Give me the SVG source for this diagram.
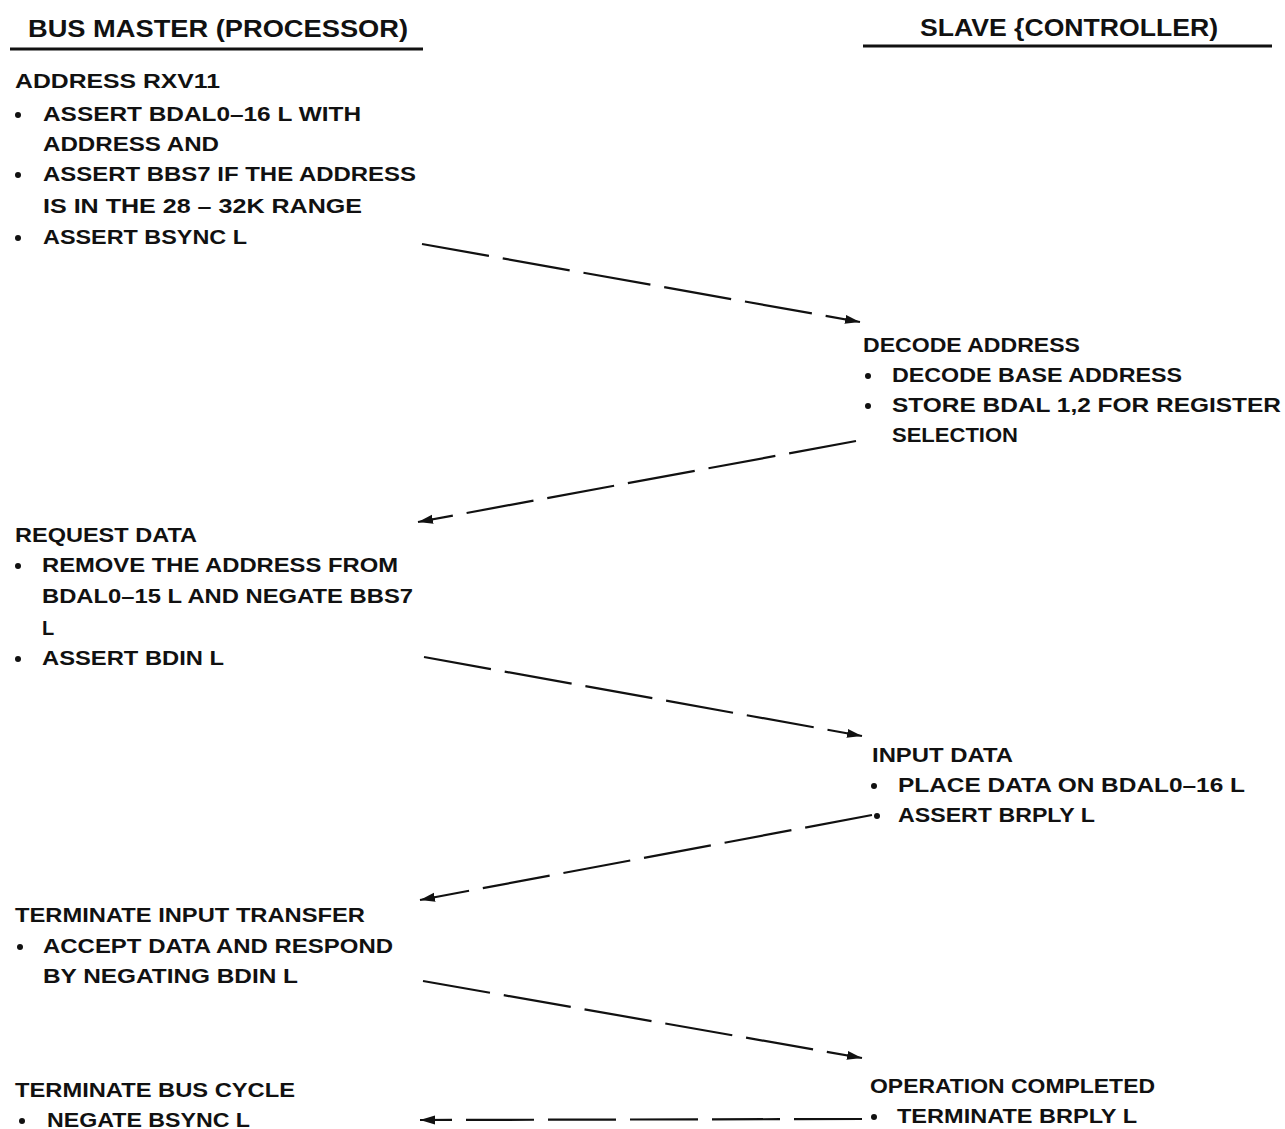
<svg xmlns="http://www.w3.org/2000/svg" width="1285" height="1129" viewBox="0 0 1285 1129">
<defs>
<style>
text{font-family:"Liberation Sans",Arial,sans-serif;font-weight:bold;fill:#111;}
.h{font-size:24px;}
.t{font-size:20px;}
.b{fill:#111;}
.rule{stroke:#111;stroke-width:3;fill:none;}
.c{stroke:#111;stroke-width:2.2;fill:none;stroke-dasharray:68 14;marker-end:url(#ah);}
</style>
<marker id="ah" markerUnits="userSpaceOnUse" markerWidth="16" markerHeight="10" refX="15" refY="5" orient="auto">
<path d="M0,0.5 L15,5 L0,9.5 Z" fill="#111"/>
</marker>
</defs>
<rect width="1285" height="1129" fill="#fff"/>

<g id="header-master">
<text class="h" x="28" y="37" textLength="380" lengthAdjust="spacingAndGlyphs">BUS MASTER (PROCESSOR)</text>
<line class="rule" x1="10" y1="49" x2="423" y2="49"/>
</g>
<g id="header-slave">
<text class="h" x="920" y="36" textLength="298" lengthAdjust="spacingAndGlyphs">SLAVE {CONTROLLER)</text>
<line class="rule" x1="863" y1="46" x2="1272" y2="46"/>
</g>

<g id="node-address">
<text class="t" x="15" y="88" textLength="205" lengthAdjust="spacingAndGlyphs">ADDRESS RXV11</text>
<circle class="b" cx="18" cy="115" r="3"/>
<text class="t" x="43" y="121" textLength="318" lengthAdjust="spacingAndGlyphs">ASSERT BDAL0–16 L WITH</text>
<text class="t" x="43" y="151" textLength="176" lengthAdjust="spacingAndGlyphs">ADDRESS AND</text>
<circle class="b" cx="18" cy="175" r="3"/>
<text class="t" x="43" y="181" textLength="373" lengthAdjust="spacingAndGlyphs">ASSERT BBS7 IF THE ADDRESS</text>
<text class="t" x="43" y="213" textLength="319" lengthAdjust="spacingAndGlyphs">IS IN THE 28 – 32K RANGE</text>
<circle class="b" cx="18" cy="238" r="3"/>
<text class="t" x="43" y="244" textLength="204" lengthAdjust="spacingAndGlyphs">ASSERT BSYNC L</text>
</g>

<g id="node-decode">
<text class="t" x="863" y="352" textLength="217" lengthAdjust="spacingAndGlyphs">DECODE ADDRESS</text>
<circle class="b" cx="868" cy="376" r="3"/>
<text class="t" x="892" y="382" textLength="290" lengthAdjust="spacingAndGlyphs">DECODE BASE ADDRESS</text>
<circle class="b" cx="868" cy="406" r="3"/>
<text class="t" x="892" y="412" textLength="389" lengthAdjust="spacingAndGlyphs">STORE BDAL  1,2 FOR REGISTER</text>
<text class="t" x="892" y="442" textLength="126" lengthAdjust="spacingAndGlyphs">SELECTION</text>
</g>

<g id="node-request">
<text class="t" x="15" y="542" textLength="182" lengthAdjust="spacingAndGlyphs">REQUEST DATA</text>
<circle class="b" cx="18" cy="566" r="3"/>
<text class="t" x="42" y="572" textLength="356" lengthAdjust="spacingAndGlyphs">REMOVE THE ADDRESS FROM</text>
<text class="t" x="42" y="603" textLength="371" lengthAdjust="spacingAndGlyphs">BDAL0–15 L AND NEGATE BBS7</text>
<text class="t" x="42" y="635">L</text>
<circle class="b" cx="18" cy="659" r="3"/>
<text class="t" x="42" y="665" textLength="182" lengthAdjust="spacingAndGlyphs">ASSERT BDIN L</text>
</g>

<g id="node-input">
<text class="t" x="872" y="762" textLength="141" lengthAdjust="spacingAndGlyphs">INPUT DATA</text>
<circle class="b" cx="874" cy="786" r="3"/>
<text class="t" x="898" y="792" textLength="347" lengthAdjust="spacingAndGlyphs">PLACE DATA ON BDAL0–16 L</text>
<circle class="b" cx="877" cy="816" r="3"/>
<text class="t" x="898" y="822" textLength="197" lengthAdjust="spacingAndGlyphs">ASSERT BRPLY L</text>
</g>

<g id="node-terminate-input">
<text class="t" x="15" y="922" textLength="350" lengthAdjust="spacingAndGlyphs">TERMINATE INPUT TRANSFER</text>
<circle class="b" cx="20" cy="947" r="3"/>
<text class="t" x="43" y="953" textLength="350" lengthAdjust="spacingAndGlyphs">ACCEPT DATA AND RESPOND</text>
<text class="t" x="43" y="983" textLength="255" lengthAdjust="spacingAndGlyphs">BY NEGATING BDIN L</text>
</g>

<g id="node-terminate-bus">
<text class="t" x="15" y="1097" textLength="280" lengthAdjust="spacingAndGlyphs">TERMINATE BUS CYCLE</text>
<circle class="b" cx="22" cy="1121" r="3"/>
<text class="t" x="47" y="1127" textLength="203" lengthAdjust="spacingAndGlyphs">NEGATE BSYNC L</text>
</g>

<g id="node-operation-completed">
<text class="t" x="870" y="1093" textLength="285" lengthAdjust="spacingAndGlyphs">OPERATION COMPLETED</text>
<circle class="b" cx="874" cy="1117" r="3"/>
<text class="t" x="897" y="1123" textLength="240" lengthAdjust="spacingAndGlyphs">TERMINATE BRPLY L</text>
</g>

<g id="connectors">
<line class="c" x1="422" y1="244" x2="860" y2="322"/>
<line class="c" x1="856" y1="441" x2="418" y2="522"/>
<line class="c" x1="424" y1="657" x2="862" y2="736"/>
<line class="c" x1="872" y1="815" x2="420" y2="900"/>
<line class="c" x1="423" y1="981" x2="862" y2="1058"/>
<line class="c" x1="862" y1="1119" x2="420" y2="1120"/>
</g>
</svg>
